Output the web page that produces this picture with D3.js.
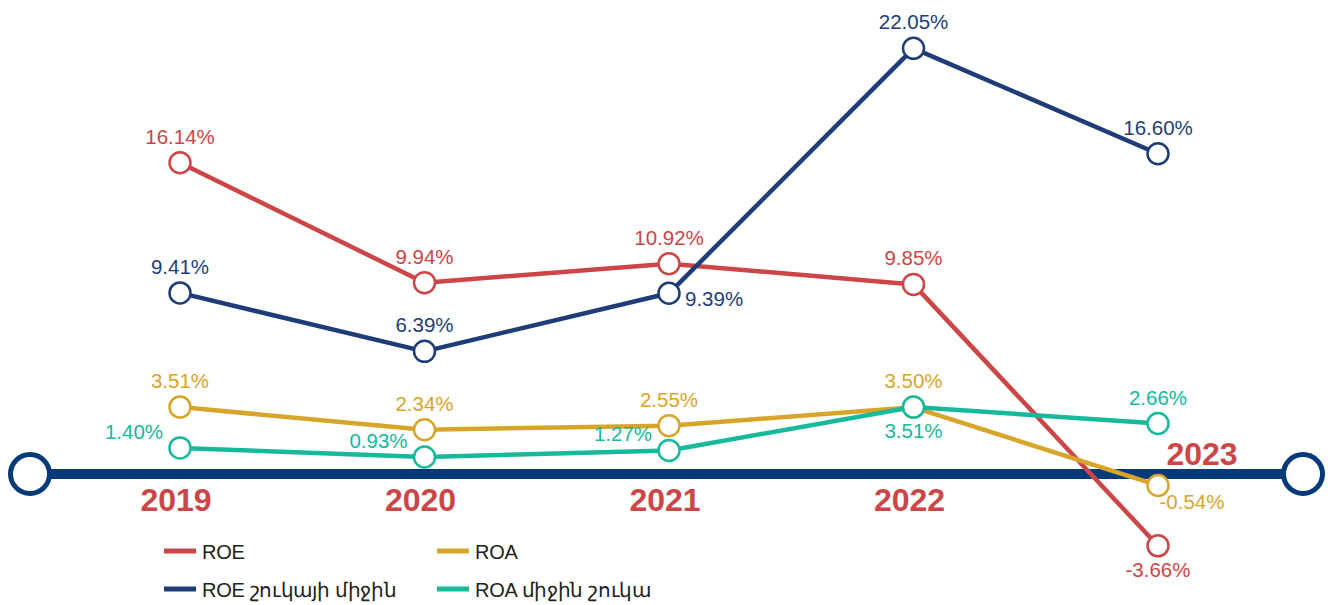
<!DOCTYPE html>
<html>
<head>
<meta charset="utf-8">
<script src="https://cdn.jsdelivr.net/npm/d3@7"></script>
<style>
  html, body { margin: 0; padding: 0; background: #fff; }
  svg { display: block; font-family: "Liberation Sans", Arial, sans-serif; }
</style>
</head>
<body>
<div id="chart"></div>
<script>
const years = ["2019", "2020", "2021", "2022", "2023"];
const roe = [16.14, 9.94, 10.92, 9.85, -3.66];
const roeMarket = [9.41, 6.39, 9.39, 22.05, 16.60];
const roa = [3.51, 2.34, 2.55, 3.50, -0.54];
const roaMarket = [1.40, 0.93, 1.27, 3.51, 2.66];
const seriesNames = ["ROE", "ROA", "ROE շուկայի միջին", "ROA միջին շուկա"];

const width = 1330, height = 605;
const colors = {
  roe: "#cc4547",
  roeMarket: "#1e3d78",
  roa: "#d8a52b",
  roaMarket: "#16b99a",
  axis: "#053a78"
};

// where each value label sits relative to its point
const placement = {
  roe: ["up", "up", "up", "up", "down"],
  roeMarket: ["up", "up", "right", "up", "up"],
  roa: ["up", "up", "up", "up", "downright"],
  roaMarket: ["upleft", "upleft", "upleft", "down", "up"]
};

const svg = d3.select("#chart").append("svg")
  .attr("width", width)
  .attr("height", height);

const x = d3.scalePoint().domain(years).range([180, 1158]);
const y = d3.scaleLinear().domain([0, 20]).range([475, 88]);

// timeline axis
const axisY = 474;
svg.append("line")
  .attr("x1", 30).attr("x2", 1303)
  .attr("y1", axisY).attr("y2", axisY)
  .style("stroke", colors.axis)
  .style("stroke-width", 10);

[30, 1303].forEach(cx => {
  svg.append("circle")
    .attr("cx", cx).attr("cy", axisY).attr("r", 19.5)
    .style("fill", "#fff")
    .style("stroke", colors.axis)
    .style("stroke-width", 5);
});

svg.selectAll(".year")
  .data(years)
  .enter()
  .append("text")
  .attr("class", "year")
  .attr("x", (d, i) => i === 4 ? x(d) + 44 : x(d) - 4)
  .attr("y", (d, i) => i === 4 ? 465 : 511)
  .attr("text-anchor", "middle")
  .style("font-size", "32px")
  .style("font-weight", "bold")
  .style("fill", colors.roe)
  .text(d => d);

const series = [
  { key: "roe", values: roe },
  { key: "roa", values: roa },
  { key: "roaMarket", values: roaMarket },
  { key: "roeMarket", values: roeMarket }
];

const line = d3.line()
  .x((d, i) => x(years[i]))
  .y(d => y(d));

const fmt = v => v.toFixed(2) + "%";

series.forEach(s => {
  const g = svg.append("g").attr("class", "series " + s.key);
  g.append("path")
    .datum(s.values)
    .attr("d", line)
    .style("fill", "none")
    .style("stroke", colors[s.key])
    .style("stroke-width", 4.5)
    .style("stroke-linejoin", "round");

  g.selectAll("circle")
    .data(s.values)
    .enter()
    .append("circle")
    .attr("cx", (d, i) => x(years[i]))
    .attr("cy", d => y(d))
    .attr("r", 10.5)
    .style("fill", "#fff")
    .style("stroke", colors[s.key])
    .style("stroke-width", 2.5);

  g.selectAll("text")
    .data(s.values)
    .enter()
    .append("text")
    .attr("x", (d, i) => {
      const p = placement[s.key][i];
      const cx = x(years[i]);
      if (p === "right") return cx + 16;
      if (p === "upleft") return cx - 46;
      if (p === "downright") return cx + 34;
      return cx;
    })
    .attr("y", (d, i) => {
      const p = placement[s.key][i];
      const cy = y(d);
      if (p === "down") return cy + 31;
      if (p === "downright") return cy + 24;
      if (p === "right") return cy + 13;
      if (p === "upleft") return cy - 9;
      return cy - 19;
    })
    .attr("text-anchor", (d, i) => placement[s.key][i] === "right" ? "start" : "middle")
    .style("font-size", "20.5px")
    .style("fill", colors[s.key])
    .text(d => fmt(d));
});

// legend
const legendKeys = ["roe", "roa", "roeMarket", "roaMarket"];
const legend = svg.selectAll(".legend")
  .data(legendKeys)
  .enter()
  .append("g")
  .attr("class", "legend")
  .attr("transform", (d, i) => `translate(${i % 2 === 0 ? 164 : 437}, ${i < 2 ? 551 : 589})`);

legend.append("line")
  .attr("x1", 0).attr("x2", 32)
  .attr("y1", 0).attr("y2", 0)
  .style("stroke", d => colors[d])
  .style("stroke-width", 5);

legend.append("text")
  .attr("x", 38)
  .attr("y", 8)
  .style("font-size", "20px")
  .style("letter-spacing", "-0.3px")
  .style("fill", "#222")
  .text((d, i) => seriesNames[i]);
</script>
</body>
</html>
